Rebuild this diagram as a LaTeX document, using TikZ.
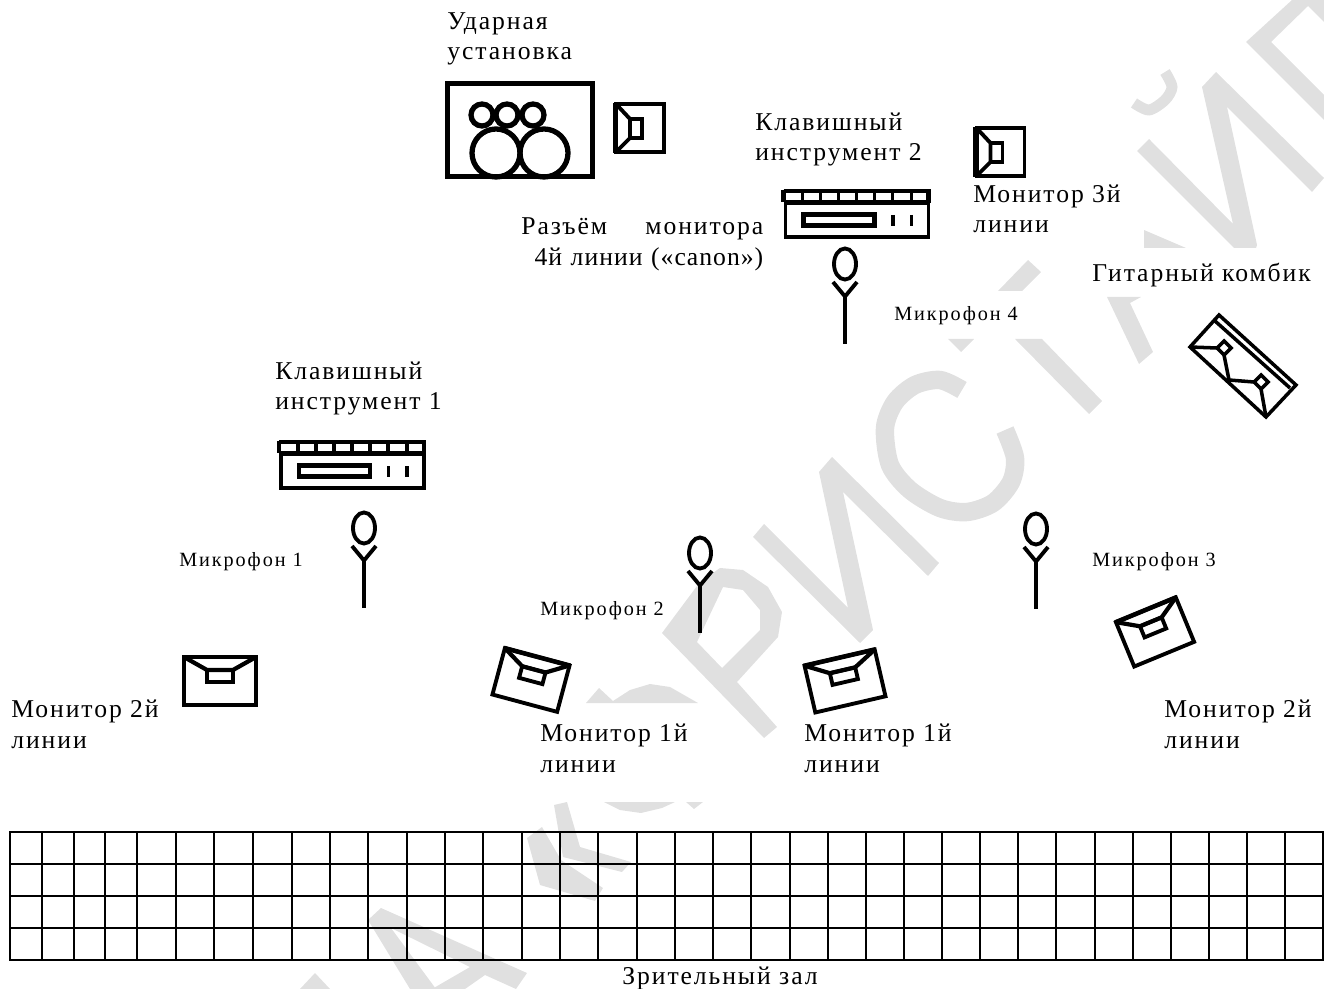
\documentclass[tikz,border=0pt]{standalone}
\usepackage{fontspec}
\setmainfont{Liberation Serif}[LetterSpace=7.5]
\usepackage{tikz}
\definecolor{markgray}{HTML}{E0E0E0}
\tikzset{
    big label/.style={anchor=base west, inner sep=0pt, align=left, font=\fontsize{14.6pt}{17.6pt}\selectfont},
    mic label/.style={anchor=base west, inner sep=0pt, font=\fontsize{11.5pt}{13pt}\selectfont\addfontfeature{LetterSpace=9.5}},
    mark fill/.style={fill=markgray, draw=none},
    mark line/.style={draw=markgray},
    hall line/.style={line width=0.04cm},
    pics/sidemonitor/.style={code={
        \draw [line width=2.2pt] (-24,-24) rectangle (24,24);
        \draw [line width=3pt] (-24.5,-25) -- (-24.5,25);
        \draw [line width=2.2pt] (-24,-24) -- (-10,-9) -- (-10,10) -- (-24,24);
        \draw [line width=2.2pt] (-10,-9) rectangle (2,10);
    }},
    pics/floormonitor/.style={code={
        \draw [line width=2.2pt] (-36,-24) -- (36,-24) -- (36,24) -- (-36,24) -- cycle;
        \draw [line width=2.6pt] (-37,-24) -- (37,-24);
        \draw [line width=2.4pt] (-36,-24) -- (-13,-11) -- (13,-11) -- (36,-24);
        \draw [line width=2.2pt] (-13,-11) rectangle (13,1);
    }},
    pics/keyboard/.style={code={
        \draw [line width=2pt] (-71,-12) rectangle (72,23);
        \draw [line width=2.4pt] (-73,-23) -- (72,-23) -- (72,-11);
        \draw [line width=2.4pt] (-73,-24) -- (-73,-12);
        \draw [line width=2.4pt] (-72,-11) -- (72,-11);
        \foreach \keyx in {-54,-36,-18,0,18,36,55}
            \draw [line width=2.2pt] (\keyx,-23) -- (\keyx,-11);
        \draw [line width=2.4pt] (-53,0.5) rectangle (18,11.5);
        \draw [line width=2.2pt] (36.5,1) -- (36.5,12);
        \draw [line width=2.2pt] (55,1) -- (55,12);
    }},
    pics/micstand/.style={code={
        \draw [line width=2.2pt] (0,0) ellipse (11 and 15.5);
        \draw [line width=2.2pt] (-12,18) -- (0,32.5) -- (12,18);
        \draw [line width=2.2pt] (0,32.5) -- (0,80);
    }},
}
\begin{document}
\begin{tikzpicture}[x=0.02cm, y=-0.02cm]
    \useasboundingbox (0,0) rectangle (1324,989);
    \fill [mark fill] (1246,42) -- (1292,0) -- (1324,0) -- (1324,22) -- (1308,6) -- (1271,42) -- (1324,95) -- (1324,120) -- cycle;
    \fill [mark fill] (1137,151) -- (1149,139) -- (1233,224) -- (1202,87) -- (1216,72) -- (1324,178) -- (1312,192) -- (1227,107) -- (1257,245) -- (1256,248) -- (1234,248) -- cycle;
    \fill [mark fill] (1144,230) -- (1186,248) -- (1144,248) -- cycle;
    \draw [mark line, line width=6.2pt] plot [smooth] coordinates {(1165,72) (1172,87) (1165,100) (1149,110) (1134,103)};
    \fill [mark fill] (1028,260) -- (1041,272) -- (1022,291) -- (998,291) -- cycle;
    \fill [mark fill] (948,339) -- (974,339) -- (961,352) -- cycle;
    \fill [mark fill] (1015,339) -- (1042,339) -- (1102,401) -- (1089,414) -- cycle;
    \fill [mark fill] (1107,297) -- (1141,297) -- (1130,303) -- (1153,352) -- (1139,364) -- cycle;
    \draw [mark line, line width=10.5pt] plot [smooth] coordinates {(962,390) (940,380) (915,385) (895,402) (885,428) (890,465) (910,490) (940,508) (967,512) (993,503) (1011,482) (1015,458) (1005,430)};
    \fill [mark fill] (753,537) -- (764,524) -- (848,608) -- (819,472) -- (832,457) -- (939,563) -- (928,576) -- (843,492) -- (873,630) -- (860,643) -- cycle;
    \fill [mark fill, even odd rule] (662,633) -- (700,582) -- (720,568) -- (743,570) -- (768,587) -- (782,612) -- (778,637) -- (737,682) -- (777,727) -- (764,738) -- cycle
        (697,642) -- (723,587) -- (743,590) -- (760,610) -- (760,630) -- (722,668) -- cycle;
    \fill [mark fill] (586,703) -- (599,688) -- (613,701) -- (630,690) -- (650,684) -- (670,687) -- (698,703) -- cycle;
    \fill [mark fill] (604,802) -- (620,810) -- (641,813) -- (662,808) -- (675,802) -- cycle;
    \fill [mark fill] (686,802) -- (703,802) -- (694,809) -- cycle;
    \fill [mark fill] (554,805) -- (567,802) -- (580,847) -- (631,862) -- (622,872) -- (563,857) -- cycle;
    \fill [mark fill] (527,838) -- (542,827) -- (561,860) -- (603,888) -- (595,901) -- (540,885) -- cycle;
    \fill [mark fill] (368,920) -- (381,908) -- (527,973) -- (516,989) -- (485,975) -- (465,989) -- (432,989) -- (470,967) -- (391,928) -- (436,989) -- (410,989) -- cycle;
    \fill [mark fill] (300,989) -- (315,973) -- (330,989) -- cycle;
    % drum kit
    \draw [line width=3pt] (447.5,83.5) rectangle (592.5,176.5);
    \foreach \tomx in {482,507,533}
        \draw [line width=3pt] (\tomx,115) circle (11);
    \draw [line width=3pt] (496,153) circle (24);
    \draw [line width=3pt] (544,153) circle (24);
    \pic (drumMonitor) at (640,128) {sidemonitor};
    \pic (keyMonitor) at (1000.5,152) {sidemonitor};
    \pic (keysTwo) at (856.5,214) {keyboard};
    \pic (keysOne) at (352,465) {keyboard};
    \pic (micOne) at (364,528) {micstand};
    \pic (micTwo) at (700,553) {micstand};
    \pic (micThree) at (1036,529) {micstand};
    \pic (micFour) at (845,264) {micstand};
    \pic (floorLeft) at (220,681) {floormonitor};
    \pic [rotate=-15, xscale=0.93] (floorMidLeft) at (531,680) {floormonitor};
    \pic [rotate=13] (floorMidRight) at (845,681) {floormonitor};
    \pic [rotate=22.4, xscale=0.9] (floorRight) at (1155,632) {floormonitor};
    % guitar combo
    \draw [line width=2pt] (1219,315) -- (1296,385) -- (1266,417) -- (1190,347) -- cycle;
    \draw [line width=2pt] (1215,321) -- (1290,388);
    \draw [line width=2pt] (1224,341) -- (1231,348) -- (1224,355) -- (1217,348) -- cycle;
    \draw [line width=2pt] (1261,375) -- (1268,382) -- (1261,389) -- (1254,382) -- cycle;
    \draw [line width=2pt] (1190,347) -- (1217,348);
    \draw [line width=2pt] (1224,355) -- (1229,380) -- (1254,382);
    \draw [line width=2pt] (1261,389) -- (1266,417);
    % audience
    \draw [hall line] (10,832) rectangle (1323,960);
    \foreach \rowy in {864,896,928}
        \draw [hall line] (10,\rowy) -- (1323,\rowy);
    \foreach \colx in {42,74,105,137,176,214,253,292,330,368,407,445,483,522,560,598,637,675,713,751,790,828,866,904,942,980,1018,1056,1095,1133,1171,1209,1247,1285}
        \draw [hall line] (\colx,832) -- (\colx,960);
    % labels
    \node [big label] (drumLabel) at (447,60) {Ударная\\установка};
    \node [big label] (keysTwoLabel) at (755,161) {Клавишный\\инструмент 2};
    \node [big label] (keyMonitorLabel) at (973,233) {Монитор 3й\\линии};
    \node [big label, text width=4.84cm, align=right] (canonLabel) at (521,235) {Разъём\hfill монитора\\{\addfontfeature{LetterSpace=4}4й линии («canon»)}};
    \node [big label] (comboLabel) at (1092,282) {Гитарный комбик};
    \node [mic label] (micFourLabel) at (894,321) {Микрофон 4};
    \node [big label] (keysOneLabel) at (275,410) {Клавишный\\инструмент 1};
    \node [mic label] (micOneLabel) at (179,566) {Микрофон 1};
    \node [mic label] (micTwoLabel) at (540,615) {Микрофон 2};
    \node [mic label] (micThreeLabel) at (1092,566) {Микрофон 3};
    \node [big label] (floorLeftLabel) at (11,748) {Монитор 2й\\линии};
    \node [big label] (floorMidLeftLabel) at (540,772) {Монитор 1й\\линии};
    \node [big label] (floorMidRightLabel) at (804,772) {Монитор 1й\\линии};
    \node [big label] (floorRightLabel) at (1164,748) {Монитор 2й\\линии};
    \node [big label] (hallLabel) at (622,984) {Зрительный зал};
\end{tikzpicture}
\end{document}
